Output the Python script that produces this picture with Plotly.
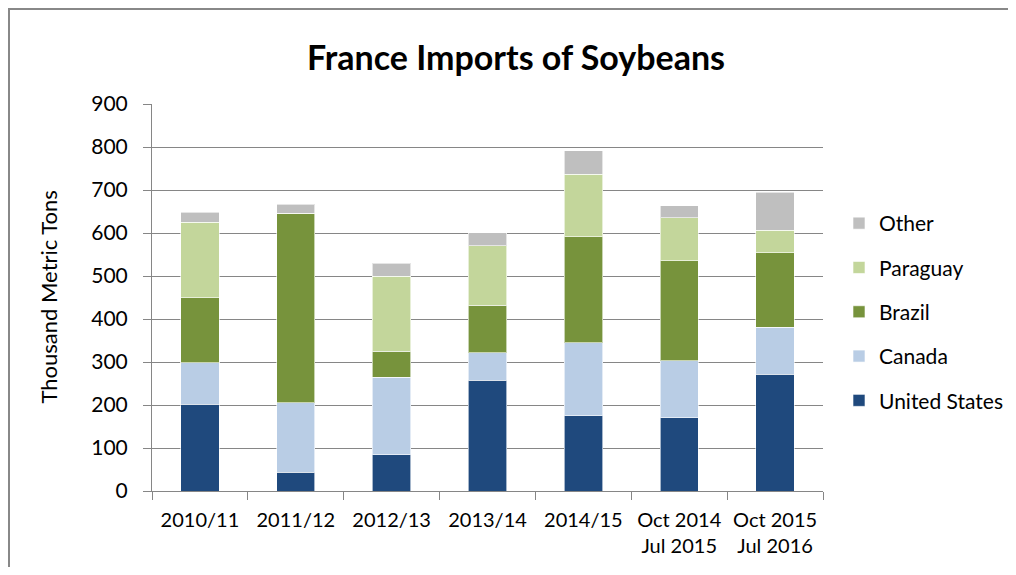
import plotly.graph_objects as go

categories = ["2010/11", "2011/12", "2012/13", "2013/14", "2014/15",
              "Oct 2014<br>Jul 2015", "Oct 2015<br>Jul 2016"]
united_states = [202, 44, 84, 257, 175, 170, 272]
canada = [96, 161, 180, 65, 170, 133, 109]
brazil = [152, 441, 61, 110, 246, 233, 173]
paraguay = [175, 0, 174, 138, 146, 100, 52]
other = [23, 21, 31, 31, 54, 27, 89]
y_ticks = [0, 100, 200, 300, 400, 500, 600, 700, 800, 900]

series = [
    ("United States", united_states, "#1F497D", 5),
    ("Canada", canada, "#B9CDE5", 4),
    ("Brazil", brazil, "#77933C", 3),
    ("Paraguay", paraguay, "#C3D69B", 2),
    ("Other", other, "#BFBFBF", 1),
]

FONT = "Lato"
fig = go.Figure()
for name, vals, col, rank in series:
    fig.add_trace(go.Bar(
        x=categories, y=vals, name=name, legendgroup=name, legendrank=rank,
        marker=dict(color=col, line=dict(color="rgba(255,255,255,0.6)", width=1)),
    ))

# figure is placed at (8, 8) in the page by the body margin
W, H = 1000, 559
L, T = 144, 96
PR, PB = 815, 483
R, B = W - PR, H - PB
pw, ph = PR - L, PB - T

fig.update_layout(
    width=W, height=H,
    barmode="stack", bargap=0.6,
    plot_bgcolor="white", paper_bgcolor="white",
    margin=dict(l=L, r=R, t=T, b=B, autoexpand=False),
    font=dict(family=FONT, size=20, color="#000000"),
    title=dict(text="<b>France Imports of Soybeans</b>", x=508 / W, xanchor="center",
               y=1 - 50 / H, yanchor="middle", font=dict(family=FONT, size=34, color="#000000")),
    legend=dict(traceorder="grouped", tracegroupgap=14,
                x=(831 - L) / pw, xanchor="left", y=0.4625, yanchor="middle",
                font=dict(family=FONT, size=21, color="#000000"),
                itemwidth=30, bgcolor="rgba(0,0,0,0)"),
    showlegend=True,
)
fig.update_xaxes(
    showline=True, linecolor="#868686", linewidth=1,
    ticks="outside", tickson="boundaries", ticklen=8, tickcolor="#868686",
    tickfont=dict(family=FONT, size=20, color="#000000"), tickangle=0,
    ticklabelstandoff=11, showgrid=False,
)
fig.update_yaxes(
    range=[0, 900], tickvals=y_ticks, ticktext=[str(v) for v in y_ticks],
    showline=True, linecolor="#868686", linewidth=1,
    ticks="outside", ticklen=8, tickcolor="#868686",
    showgrid=True, gridcolor="#868686", gridwidth=1,
    tickfont=dict(family=FONT, size=21, color="#000000"),
    ticklabelstandoff=11, zeroline=False,
)
fig.add_annotation(
    text="Thousand Metric Tons", textangle=-90, showarrow=False,
    xref="paper", yref="paper", x=(40 - L) / pw, y=0.5, xanchor="center", yanchor="middle",
    font=dict(family=FONT, size=22, color="#000000"),
)
fig.add_shape(
    type="rect", xref="paper", yref="paper",
    x0=(1 - L) / pw, x1=(1100 - L) / pw, y0=-1.0, y1=(PB - 1) / ph,
    line=dict(color="#888888", width=2), fillcolor="rgba(0,0,0,0)", layer="below",
)
fig.write_html("out.html")
